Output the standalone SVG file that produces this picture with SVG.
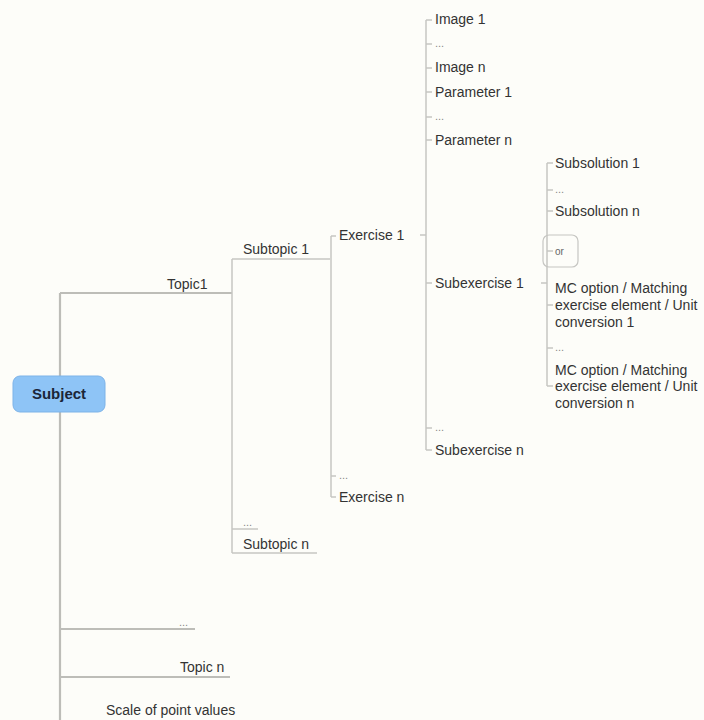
<svg xmlns="http://www.w3.org/2000/svg" width="704" height="720" viewBox="0 0 704 720">
<style>
text{font-family:"Liberation Sans",Arial,sans-serif;font-size:14px;fill:#333}
.dots{font-size:11px;fill:#888}
.ln{stroke:#c6c6c2;stroke-width:1.5;fill:none}
.trunk{stroke:#bdbdb8;stroke-width:2.2;fill:none}
</style>
<rect width="704" height="720" fill="#fdfdf9"/>
<g id="connectors">
<path class="trunk" d="M60 293V720"/>
<path class="trunk" d="M60 293H232M60 629H195M60 677H230"/>
<path class="ln" d="M232 259V553M232 259H330M232 529H258M232 553H317"/>
<path class="ln" d="M331 236V497M331 236H336M331 476H336M331 497H336"/>
<path class="ln" d="M420 235H426M426 20V450M426 20H432M426 44H432M426 68H432M426 92H432M426 117H432M426 140H432M426 283H432M426 428H432M426 450H432"/>
<path class="ln" d="M541 283H547M547 163V386M547 163H553M547 190H553M547 211H553M547 251H553M547 305H553M547 348H553M547 386H553"/>
</g>
<g id="subject">
<rect x="13" y="376" width="92" height="36" rx="7" fill="#8ec4f6" stroke="#7db3e8" stroke-width="1"/>
<text x="59" y="399" text-anchor="middle" style="font-weight:bold;font-size:15px;fill:#1b2638">Subject</text>
</g>
<g id="topic1"><text x="167" y="289">Topic1</text></g>
<g id="topic-dots"><text class="dots" x="179" y="626">...</text></g>
<g id="topicn"><text x="180" y="672">Topic n</text></g>
<g id="scale"><text x="106" y="715">Scale of point values</text></g>
<g id="subtopic1"><text x="243" y="254">Subtopic 1</text></g>
<g id="subtopic-dots"><text class="dots" x="243" y="526">...</text></g>
<g id="subtopicn"><text x="243" y="549">Subtopic n</text></g>
<g id="exercise1"><text x="339" y="240">Exercise 1</text></g>
<g id="exercise-dots"><text class="dots" x="339" y="479">...</text></g>
<g id="exercisen"><text x="339" y="502">Exercise n</text></g>
<g id="image1"><text x="435" y="24">Image 1</text></g>
<g id="image-dots"><text class="dots" x="435" y="47">...</text></g>
<g id="imagen"><text x="435" y="72">Image n</text></g>
<g id="param1"><text x="435" y="97">Parameter 1</text></g>
<g id="param-dots"><text class="dots" x="435" y="120">...</text></g>
<g id="paramn"><text x="435" y="145">Parameter n</text></g>
<g id="subex1"><text x="435" y="288">Subexercise 1</text></g>
<g id="subex-dots"><text class="dots" x="435" y="431">...</text></g>
<g id="subexn"><text x="435" y="455">Subexercise n</text></g>
<g id="subsol1"><text x="555" y="168">Subsolution 1</text></g>
<g id="subsol-dots"><text class="dots" x="555" y="193">...</text></g>
<g id="subsoln"><text x="555" y="216">Subsolution n</text></g>
<g id="or">
<rect x="543" y="235" width="35" height="32" rx="6" fill="none" stroke="#c6c6c2" stroke-width="1.2"/>
<text x="555" y="255" style="font-size:10px;fill:#666">or</text>
</g>
<g id="mc1"><text x="555" y="293">MC option / Matching</text><text x="555" y="310">exercise element / Unit</text><text x="555" y="327">conversion 1</text></g>
<g id="mc-dots"><text class="dots" x="555" y="351">...</text></g>
<g id="mcn"><text x="555" y="375">MC option / Matching</text><text x="555" y="391">exercise element / Unit</text><text x="555" y="408">conversion n</text></g>
</svg>
